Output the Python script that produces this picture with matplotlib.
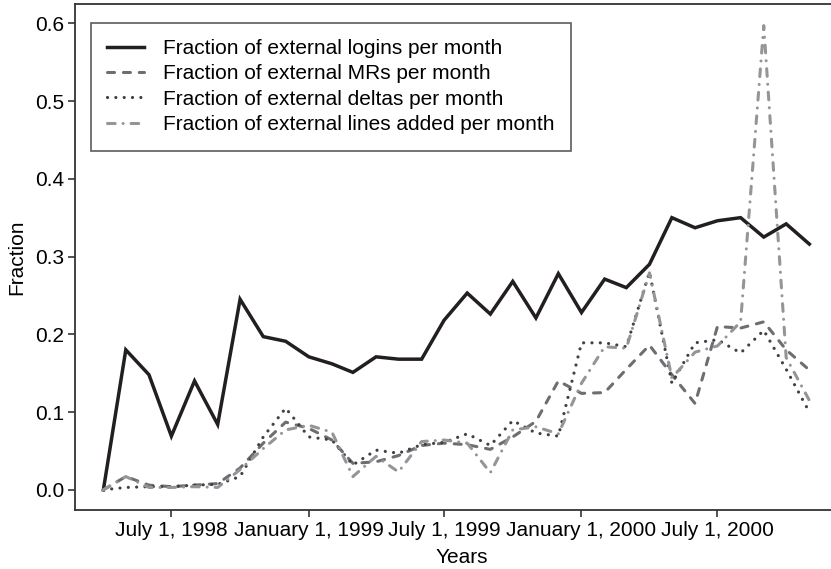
import matplotlib
matplotlib.use('Agg')
import matplotlib.pyplot as plt
import pandas as pd

plt.rcParams['font.family'] = ['Liberation Sans', 'DejaVu Sans']

# monthly data, April 1998 - November 2000
months = pd.date_range('1998-04-01', periods=32, freq='MS')

logins = [0.000, 0.180, 0.148, 0.069, 0.140, 0.084, 0.245, 0.197, 0.191,
          0.171, 0.162, 0.151, 0.171, 0.168, 0.168, 0.218, 0.253, 0.226, 0.268, 0.221, 0.278,
          0.228, 0.271, 0.260, 0.290, 0.350, 0.337, 0.346, 0.350, 0.325, 0.342, 0.316]
mrs = [0.000, 0.017, 0.006, 0.004, 0.006, 0.008, 0.028, 0.060, 0.087,
       0.079, 0.064, 0.034, 0.036, 0.044, 0.057, 0.060, 0.058, 0.052, 0.068, 0.088, 0.140,
       0.124, 0.125, 0.155, 0.186, 0.148, 0.111, 0.210, 0.208, 0.216, 0.180, 0.154]
deltas = [0.000, 0.003, 0.004, 0.004, 0.006, 0.007, 0.017, 0.068, 0.105,
          0.068, 0.064, 0.032, 0.051, 0.047, 0.058, 0.061, 0.072, 0.057, 0.089, 0.073, 0.069,
          0.189, 0.189, 0.184, 0.280, 0.137, 0.189, 0.193, 0.176, 0.205, 0.155, 0.100]
lines_added = [0.000, 0.017, 0.003, 0.003, 0.004, 0.003, 0.026, 0.053, 0.077,
               0.083, 0.074, 0.017, 0.043, 0.023, 0.062, 0.064, 0.060, 0.022, 0.077, 0.081, 0.072,
               0.137, 0.184, 0.182, 0.279, 0.144, 0.177, 0.185, 0.216, 0.597, 0.170, 0.115]

tick_dates = pd.to_datetime(['1998-07-01', '1999-01-01', '1999-07-01', '2000-01-01', '2000-07-01'])
tick_labels = ['July 1, 1998', 'January 1, 1999', 'July 1, 1999', 'January 1, 2000', 'July 1, 2000']
y_ticks = [0.0, 0.1, 0.2, 0.3, 0.4, 0.5, 0.6]

fs = 15
fig = plt.figure(figsize=(8.31, 5.69), dpi=100)
ax = fig.add_axes([75 / 831, 1 - 510 / 569, 756 / 831, 506 / 569])

ax.plot(months, logins, color='#231f20', lw=2.5, solid_joinstyle='miter',
        label='Fraction of external logins per month')
ax.plot(months, mrs, color='#6d6e71', lw=2.2, linestyle=(0, (2.3, 2.9)),
        dash_capstyle='round', label='Fraction of external MRs per month')
ax.plot(months, deltas, color='#414042', lw=2.3, linestyle=(0, (0.01, 2.6)),
        dash_capstyle='round', label='Fraction of external deltas per month')
ax.plot(months, lines_added, color='#939598', lw=2.2, linestyle=(0, (2.5, 2.6, 0.01, 2.6)),
        dash_capstyle='round', label='Fraction of external lines added per month')

ax.set_xlim(pd.Timestamp('1998-02-22'), pd.Timestamp('2000-11-30'))
ax.set_ylim(-0.026, 0.6248)
ax.set_xticks(tick_dates)
ax.set_xticklabels(tick_labels, fontsize=fs)
ax.set_yticks(y_ticks)
ax.set_yticklabels([f'{v:.1f}' for v in y_ticks], fontsize=fs)
ax.tick_params(direction='out', length=5, width=1.2, color='#333333', pad=3)

for side in ['left', 'bottom', 'top']:
    ax.spines[side].set_color('#333333')
    ax.spines[side].set_linewidth(1.3)
ax.spines['right'].set_visible(False)

ax.set_xlabel('Years', fontsize=fs)
ax.xaxis.set_label_coords(0.512, -0.075)
ax.set_ylabel('Fraction', fontsize=fs, labelpad=6)

leg = ax.legend(loc='upper left', bbox_to_anchor=(0.007, 0.984), fontsize=fs,
                frameon=True, fancybox=False, handlelength=1.77, handletextpad=0.91,
                labelspacing=0.3, borderpad=0.8)
leg.get_frame().set_edgecolor('#333333')
leg.get_frame().set_linewidth(1.2)

fig.savefig('out.png', dpi=100, facecolor='white')
